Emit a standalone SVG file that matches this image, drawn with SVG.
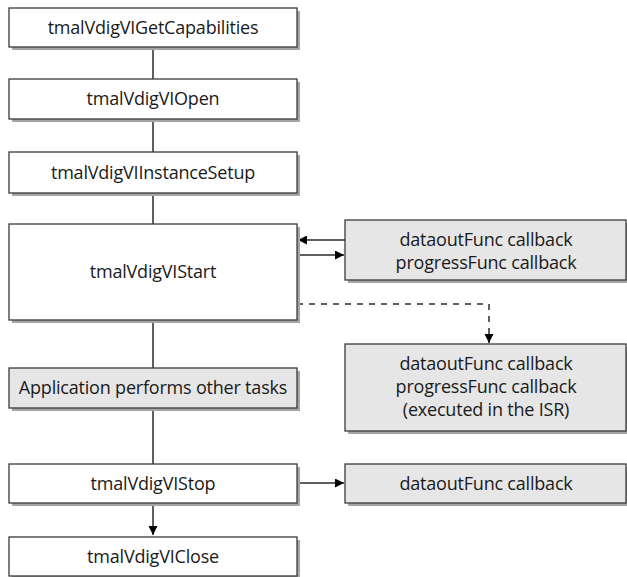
<svg xmlns="http://www.w3.org/2000/svg" width="627" height="577" viewBox="0 0 627 577">
<defs>
<style>
.sh{fill:#a6a6a6;stroke:none}
.bx{fill:#ffffff;stroke:#3a3a3a;stroke-width:1.3}
.gy{fill:#e6e6e6;stroke:#3a3a3a;stroke-width:1.3}
.t{font-family:"Open Sans","Noto Sans",sans-serif;font-size:18px;fill:#1a1a1a;text-anchor:middle;letter-spacing:-0.2px}
.ln{stroke:#2a2a2a;stroke-width:1.5;fill:none}
.dl{stroke:#2a2a2a;stroke-width:1.5;fill:none;stroke-dasharray:6,6}
</style>
<marker id="ah" viewBox="0 0 10 10" refX="10" refY="5" markerWidth="15" markerHeight="9" markerUnits="userSpaceOnUse" orient="auto">
<path d="M0,0 L10,5 L0,10 z" fill="#000"/>
</marker>
</defs>
<g id="connectors">
<line class="ln" x1="153" y1="47" x2="153" y2="79"/>
<line class="ln" x1="153" y1="119" x2="153" y2="152"/>
<line class="ln" x1="153" y1="193" x2="153" y2="224"/>
<line class="ln" x1="153" y1="320" x2="153" y2="368"/>
<line class="ln" x1="153" y1="408" x2="153" y2="464"/>
<line class="ln" x1="153" y1="503" x2="153" y2="535" marker-end="url(#ah)"/>
<line class="ln" x1="345" y1="240" x2="298" y2="240" marker-end="url(#ah)"/>
<line class="ln" x1="297" y1="255" x2="344" y2="255" marker-end="url(#ah)"/>
<polyline class="dl" points="297,304 489,304 489,343" marker-end="url(#ah)"/>
<line class="ln" x1="297" y1="483" x2="344" y2="483" marker-end="url(#ah)"/>
</g>
<g id="n1"><rect class="sh" x="12" y="11" width="288" height="39"/><rect class="bx" x="9" y="8" width="288" height="39"/><text class="t" x="153" y="34">tmalVdigVIGetCapabilities</text></g>
<g id="n2"><rect class="sh" x="12" y="82" width="288" height="40"/><rect class="bx" x="9" y="79" width="288" height="40"/><text class="t" x="153" y="105">tmalVdigVIOpen</text></g>
<g id="n3"><rect class="sh" x="12" y="155" width="288" height="41"/><rect class="bx" x="9" y="152" width="288" height="41"/><text class="t" x="153" y="179">tmalVdigVIInstanceSetup</text></g>
<g id="n4"><rect class="sh" x="12" y="227" width="288" height="96"/><rect class="bx" x="9" y="224" width="288" height="96"/><text class="t" x="153" y="278">tmalVdigVIStart</text></g>
<g id="n5"><rect class="sh" x="12" y="371" width="288" height="40"/><rect class="gy" x="9" y="368" width="288" height="40"/><text class="t" x="153" y="394">Application performs other tasks</text></g>
<g id="n6"><rect class="sh" x="12" y="467" width="288" height="39"/><rect class="bx" x="9" y="464" width="288" height="39"/><text class="t" x="153" y="490">tmalVdigVIStop</text></g>
<g id="n7"><rect class="sh" x="12" y="540" width="288" height="39"/><rect class="bx" x="9" y="537" width="288" height="39"/><text class="t" x="153" y="563">tmalVdigVIClose</text></g>
<g id="c1"><rect class="sh" x="348" y="223" width="282" height="60"/><rect class="gy" x="345" y="220" width="281" height="60"/><text class="t" x="486" y="246">dataoutFunc callback</text><text class="t" x="486" y="269">progressFunc callback</text></g>
<g id="c2"><rect class="sh" x="348" y="347" width="282" height="87"/><rect class="gy" x="345" y="344" width="281" height="87"/><text class="t" x="486" y="370">dataoutFunc callback</text><text class="t" x="486" y="393">progressFunc callback</text><text class="t" x="486" y="416">(executed in the ISR)</text></g>
<g id="c3"><rect class="sh" x="348" y="467" width="282" height="39"/><rect class="gy" x="345" y="464" width="281" height="39"/><text class="t" x="486" y="490">dataoutFunc callback</text></g>
</svg>
